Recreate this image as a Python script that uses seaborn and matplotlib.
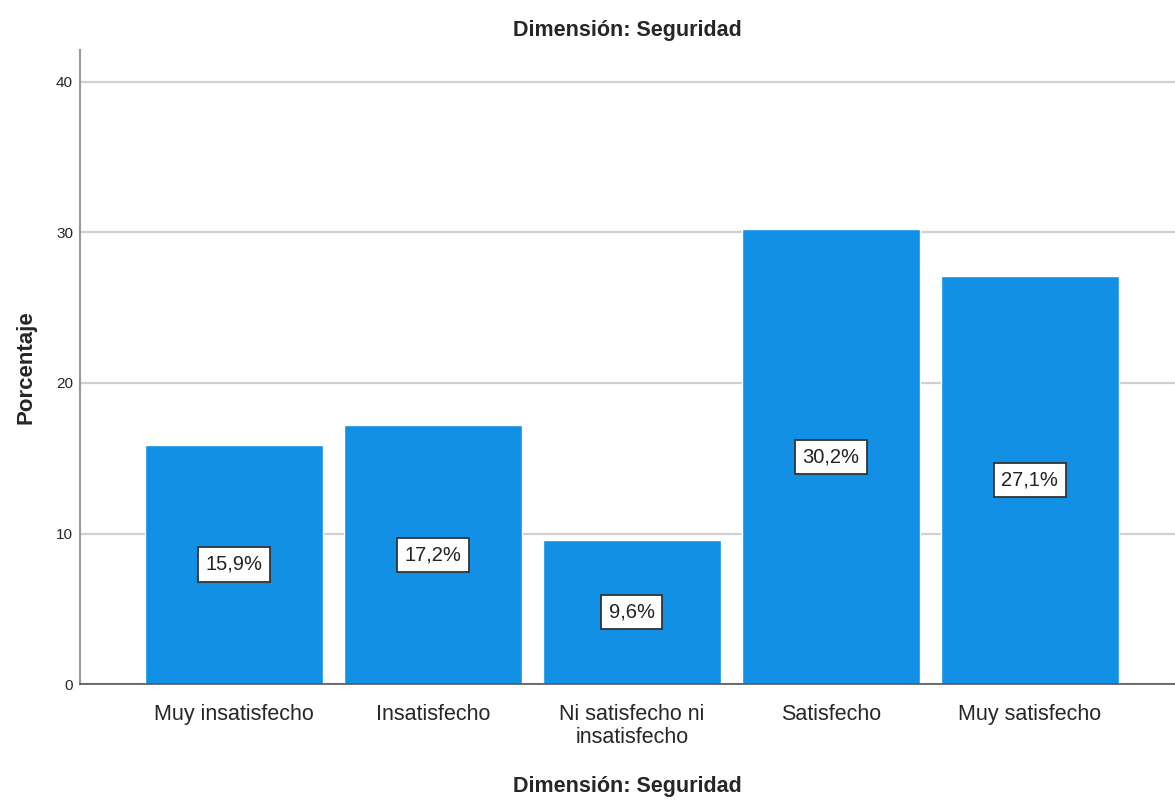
import matplotlib
matplotlib.use("Agg")
import matplotlib.pyplot as plt
import seaborn as sns
import pandas as pd

categorias = ["Muy insatisfecho", "Insatisfecho", "Ni satisfecho ni\ninsatisfecho",
              "Satisfecho", "Muy satisfecho"]
porcentajes = [15.9, 17.2, 9.6, 30.2, 27.1]
etiquetas = ["15,9%", "17,2%", "9,6%", "30,2%", "27,1%"]
yticks = [0, 10, 20, 30, 40]

sns.set_theme(style="white")
plt.rcParams['font.family'] = ['Liberation Sans', 'DejaVu Sans']

df = pd.DataFrame({"cat": categorias, "pct": porcentajes})

fig = plt.figure(figsize=(11.75, 8.05), dpi=100)
ax = fig.add_axes([0.068, 0.150, 0.932, 0.788])

sns.barplot(data=df, x="cat", y="pct", color="#1190e6", saturation=1,
            width=0.895, ax=ax, zorder=2)

# etiquetas en el centro de cada barra
for i, (v, t) in enumerate(zip(porcentajes, etiquetas)):
    ax.text(i, v / 2, t, ha="center", va="center", fontsize=14.5, color="#222222",
            bbox=dict(boxstyle="square,pad=0.38", fc="white", ec="#333333", lw=1.3),
            zorder=3)

ax.set_xlim(-0.774, 4.73)
ax.set_ylim(0, 42.1)
ax.set_yticks(yticks)
ax.set_yticklabels([str(t) for t in yticks], fontsize=11)
ax.tick_params(axis="x", labelsize=15.5, length=0, pad=14)
ax.tick_params(axis="y", length=0, pad=5)
for lab in ax.get_xticklabels():
    lab.set_linespacing(1.15)
ax.yaxis.grid(True, color="#d0d0d0", lw=1.6, zorder=0)
ax.set_axisbelow(True)

for s in ["top", "right"]:
    ax.spines[s].set_visible(False)
ax.spines["left"].set_color("#999999")
ax.spines["left"].set_linewidth(1.5)
ax.spines["bottom"].set_color("#555555")
ax.spines["bottom"].set_linewidth(1.2)

ax.set_xlabel("Dimensión: Seguridad", fontsize=15.5, fontweight="bold", labelpad=20)
ax.set_ylabel("Porcentaje", fontsize=16, fontweight="bold", labelpad=14)
ax.set_title("Dimensión: Seguridad", fontsize=15.5, fontweight="bold", pad=10)

fig.savefig("out.png", dpi=100)
